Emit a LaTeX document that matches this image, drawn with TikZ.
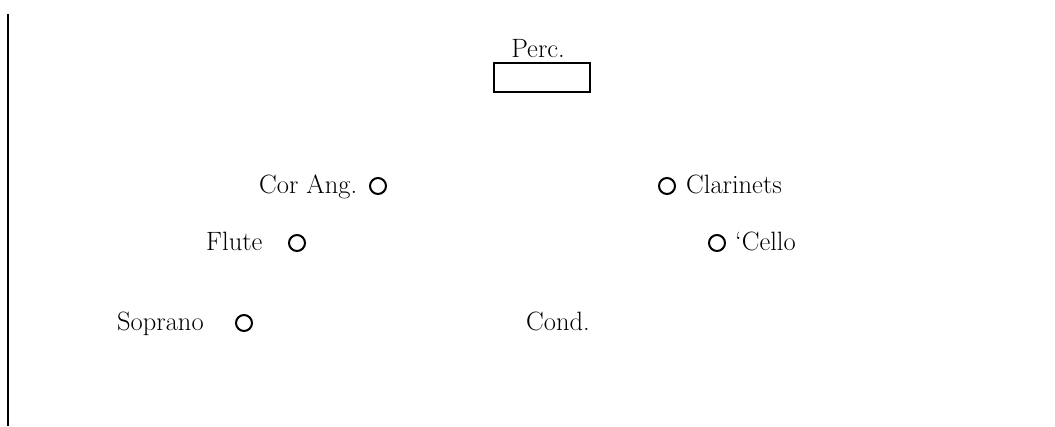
\documentclass[tikz,border=0pt]{standalone}
\begin{document}
\begin{tikzpicture}[x=1pt,y=-1pt,
  lbl/.style={inner sep=0pt,font=\fontsize{26.5}{30}\selectfont},
  seat/.style={circle,draw,line width=2pt,minimum size=16pt,inner sep=0pt}]
\useasboundingbox (0,0) rectangle (1055,426);
\coordinate (ltop) at (8,14);
\coordinate (lbot) at (8,426);
\draw[line width=1.2pt] (ltop) -- (lbot);
\node[draw,line width=2pt,minimum width=96pt,minimum height=29pt,inner sep=0pt] (perc) at (541.5,77) {};
\node[lbl,anchor=base] (perct) at (538,57) {Perc.};
\node[lbl,anchor=base west] (corang) at (259,193) {Cor Ang.};
\node[seat] (corangs) at (378,186) {};
\node[seat] (clars) at (667,186) {};
\node[lbl,anchor=base west] (clar) at (686,193) {Clarinets};
\node[lbl,anchor=base west] (flute) at (206,250) {Flute};
\node[seat] (flutes) at (297,243) {};
\node[seat] (cellos) at (717,243) {};
\node[lbl,anchor=base west] (cello) at (735,250) {`Cello};
\node[lbl,anchor=base west] (sop) at (117,330) {Soprano};
\node[seat] (sops) at (244,323) {};
\node[lbl,anchor=base west] (cond) at (526,330) {Cond.};
\end{tikzpicture}
\end{document}
